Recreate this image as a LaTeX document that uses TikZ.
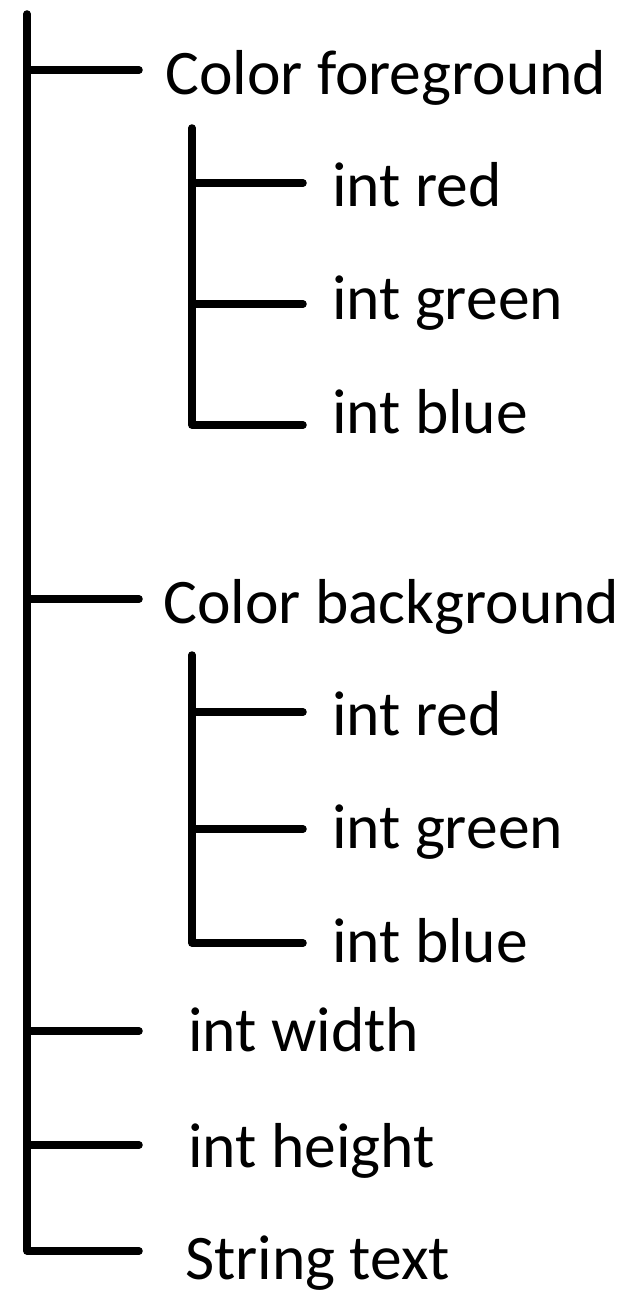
\documentclass[tikz,border=0pt]{standalone}
\usepackage{fontspec}
\setmainfont{Carlito}
\usepackage{tikz}
\usetikzlibrary{positioning}
\tikzset{font={\fontsize{63.5pt}{76pt}\selectfont}}
\tikzset{
branch/.style={line width=7.5pt,line cap=round,line join=round},
field/.style={anchor=base west,inner sep=0pt}
}

\begin{document}
\begin{tikzpicture}[x=1pt,y=-1pt]
\useasboundingbox (0,0) rectangle (641,1292);

%main trunk
\coordinate (top) at (27,14);
\coordinate (r1) at (27,70);   \coordinate (e1) at (139,70);
\coordinate (r2) at (27,599);  \coordinate (e2) at (139,599);
\coordinate (r3) at (27,1031); \coordinate (e3) at (139,1031);
\coordinate (r4) at (27,1145); \coordinate (e4) at (139,1145);
\coordinate (r5) at (27,1251); \coordinate (e5) at (139,1251);

\node[field] (fg) at (165,95) {Color foreground};
\node[field] (bg) at (163,623) {Color background};
\node[field] (w) at (188,1051) {int width};
\node[field] (h) at (188,1167) {int height};
\node[field] (t) at (185,1279) {String text};

\draw[branch] (top) -- (r5) -- (e5);
\foreach \i in {1,2,3,4}
  \draw[branch] (r\i) -- (e\i);

%sub trees
\coordinate (fgtop) at (192,128);
\coordinate (bgtop) at (192,655);
\foreach \n/\y in {1/183,2/304,3/425}{
  \coordinate (fgr\n) at (192,\y);
  \coordinate (fge\n) at (303,\y);
}
\foreach \n/\y in {1/712,2/829,3/943}{
  \coordinate (bgr\n) at (192,\y);
  \coordinate (bge\n) at (303,\y);
}

\node[field] (fgred) at (332,206) {int red};
\node[field] (fggreen) at (332,319) {int green};
\node[field] (fgblue) at (332,433) {int blue};
\node[field] (bgred) at (332,735) {int red};
\node[field] (bggreen) at (332,848) {int green};
\node[field] (bgblue) at (332,962) {int blue};

\draw[branch] (fgtop) -- (fgr3) -- (fge3);
\draw[branch] (fgr1) -- (fge1);
\draw[branch] (fgr2) -- (fge2);
\draw[branch] (bgtop) -- (bgr3) -- (bge3);
\draw[branch] (bgr1) -- (bge1);
\draw[branch] (bgr2) -- (bge2);

\end{tikzpicture}
\end{document}
